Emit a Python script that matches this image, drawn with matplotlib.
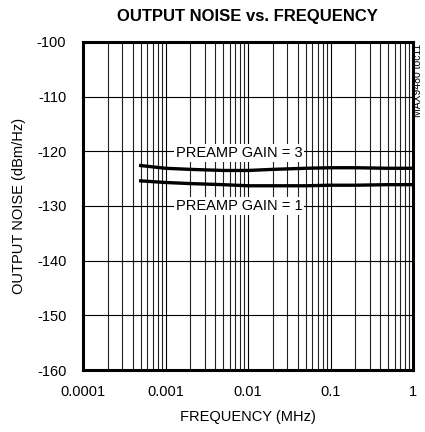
import matplotlib
matplotlib.use("Agg")
import matplotlib.pyplot as plt
import numpy as np

plt.rcParams['font.family'] = ['Liberation Sans', 'DejaVu Sans']
plt.rcParams['axes.unicode_minus'] = False

freq_g3 = [0.0005, 0.001, 0.002, 0.005, 0.01, 0.02, 0.05, 0.1, 0.2, 0.5, 1.0]
noise_g3 = [-122.6, -123.1, -123.3, -123.5, -123.5, -123.3, -123.1, -123.0, -123.0, -123.1, -123.1]
freq_g1 = [0.0005, 0.001, 0.002, 0.005, 0.01, 0.02, 0.05, 0.1, 0.2, 0.5, 1.0]
noise_g1 = [-125.4, -125.7, -125.9, -126.1, -126.3, -126.3, -126.3, -126.2, -126.2, -126.1, -126.1]

yticks = [-100, -110, -120, -130, -140, -150, -160]
xticks = [0.0001, 0.001, 0.01, 0.1, 1]
xticklabels = ['0.0001', '0.001', '0.01', '0.1', '1']

fig = plt.figure(figsize=(4.25, 4.32), dpi=100)
ax = fig.add_axes([0.1953, 0.1435, 0.7765, 0.7593])
ax.set_xscale('log')
ax.set_xlim(0.0001, 1)
ax.set_ylim(-160, -100)

ax.set_xticks(xticks)
ax.set_xticklabels(xticklabels)
ax.set_yticks(yticks)
ax.grid(True, which='major', axis='both', color='black', lw=0.8)
ax.grid(True, which='minor', axis='x', color='#222222', lw=0.8)
ax.tick_params(which='both', length=0, labelsize=10.5)
ax.tick_params(axis='y', pad=12)
ax.tick_params(axis='x', pad=11)
for s in ax.spines.values():
    s.set_linewidth(2.2)

ax.plot(freq_g3, noise_g3, color='black', lw=2.4, zorder=5)
ax.plot(freq_g1, noise_g1, color='black', lw=2.4, zorder=5)

ax.text(0.0078, -120.3, 'PREAMP GAIN = 3', fontsize=10.5, ha='center', va='center',
        bbox=dict(facecolor='white', edgecolor='none', pad=1.5), zorder=4)
ax.text(0.0078, -130.0, 'PREAMP GAIN = 1', fontsize=10.5, ha='center', va='center',
        bbox=dict(facecolor='white', edgecolor='none', pad=1.5), zorder=4)

ax.set_xlabel('FREQUENCY (MHz)', fontsize=10.5, labelpad=8)
ax.set_ylabel('OUTPUT NOISE (dBm/Hz)', fontsize=10.5, labelpad=8)
fig.text(0.582, 0.961, 'OUTPUT NOISE vs. FREQUENCY', fontsize=12, fontweight='bold',
         ha='center', va='center')
fig.text(0.984, 0.90, 'MAX9480 toc11', fontsize=7.5, rotation=90, ha='center', va='top')

fig.savefig('out.png', dpi=100)
